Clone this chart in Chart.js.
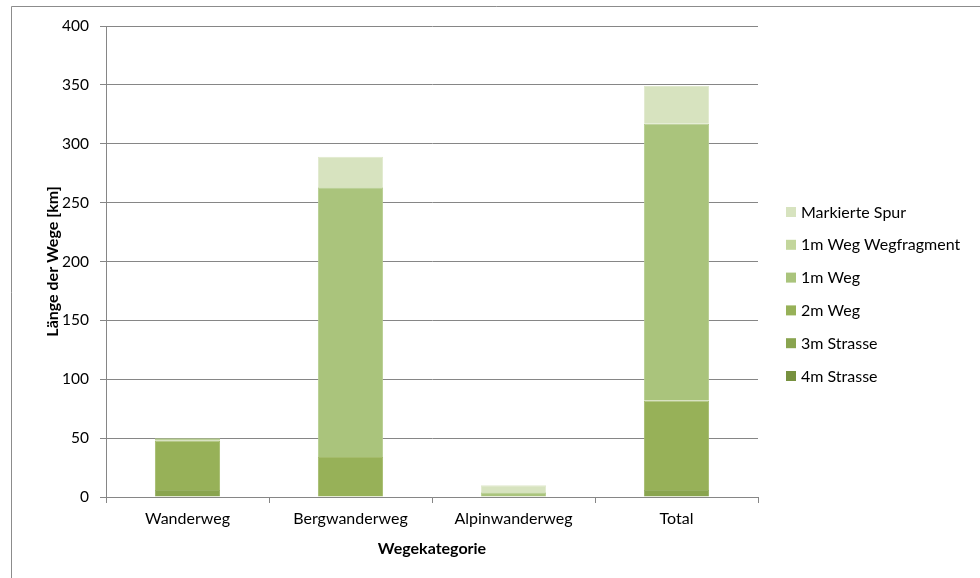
<!DOCTYPE html>
<html>
<head>
<meta charset="utf-8">
<script src="https://cdn.jsdelivr.net/npm/chart.js@4/dist/chart.umd.min.js"></script>
<style>
  html, body { margin: 0; padding: 0; background: #fff; }
  #wrap { width: 980px; height: 578px; }
</style>
</head>
<body>
<div id="wrap"><canvas id="c" width="980" height="578"></canvas></div>
<script>
// Wegekategorien und Längen je Wegtyp (km)
const categories = ['Wanderweg', 'Bergwanderweg', 'Alpinwanderweg', 'Total'];
const strasse4m  = [0, 0, 0, 0];
const strasse3m  = [6, 0, 0, 6];
const weg2m      = [42, 34, 0, 76];
const weg1m      = [2, 229, 4, 235];
const wegfragm1m = [0, 0, 0, 0];
const markSpur   = [0, 26, 6, 32];
const yTicks     = [0, 50, 100, 150, 200, 250, 300, 350, 400];

const FONT = 'Lato, "Open Sans", sans-serif';
const GRID = '#868686';

const series = [
  { label: '4m Strasse',           data: strasse4m,  color: '#77913f', edge: '#869e53' },
  { label: '3m Strasse',           data: strasse3m,  color: '#89a44f', edge: '#97b062' },
  { label: '2m Weg',               data: weg2m,      color: '#97b158', edge: '#a5bc6c' },
  { label: '1m Weg',               data: weg1m,      color: '#aac47c', edge: '#b6cd8e' },
  { label: '1m Weg Wegfragment',   data: wegfragm1m, color: '#c3d69c', edge: '#cddeaa' },
  { label: 'Markierte Spur',       data: markSpur,   color: '#d7e3bf', edge: '#e0e9cc' }
];

const datasets = series.map(s => ({
  label: s.label,
  data: s.data,
  backgroundColor: s.color,
  borderColor: s.edge,
  borderWidth: ctx => (ctx.raw ? 1 : 0),
  borderSkipped: 'start',
  categoryPercentage: 1,
  barPercentage: 0.4
}));

// Rahmen links/oben und Legende rechts
const frameAndLegend = {
  id: 'frameAndLegend',
  beforeDraw(chart) {
    const c = chart.ctx;
    c.save();
    c.strokeStyle = '#8c8c8c';
    c.lineWidth = 1;
    c.beginPath();
    c.moveTo(11.5, 600);
    c.lineTo(11.5, 6.5);
    c.lineTo(1000, 6.5);
    c.stroke();
    c.restore();
  },
  afterDraw(chart) {
    const c = chart.ctx;
    const ds = chart.data.datasets.slice().reverse();
    c.save();
    c.font = '16px ' + FONT;
    c.textBaseline = 'middle';
    c.textAlign = 'left';
    ds.forEach((d, i) => {
      const y = 212 + i * 32.8;
      c.fillStyle = d.backgroundColor;
      c.fillRect(786, y - 5, 10, 10);
      c.fillStyle = '#000';
      c.fillText(d.label, 801, y + 0.5);
    });
    c.restore();
  }
};

new Chart(document.getElementById('c'), {
  type: 'bar',
  data: { labels: categories, datasets },
  plugins: [frameAndLegend],
  options: {
    responsive: false,
    animation: false,
    devicePixelRatio: 1,
    layout: { padding: { top: 26, right: 222, left: 0, bottom: 0 } },
    plugins: { legend: { display: false }, tooltip: { enabled: false } },
    scales: {
      x: {
        stacked: true,
        offset: true,
        afterFit(scale) { scale.height = 81; },
        grid: {
          offset: true,
          drawOnChartArea: false,
          drawTicks: true,
          tickLength: 6,
          color: GRID
        },
        border: { color: GRID, width: 1 },
        ticks: { color: '#000', font: { family: FONT, size: 16 }, padding: 6, maxRotation: 0 },
        title: {
          display: true,
          text: 'Wegekategorie',
          color: '#000',
          font: { family: FONT, size: 16, weight: 'bold' },
          padding: { top: 0, bottom: 20 }
        }
      },
      y: {
        stacked: true,
        min: 0,
        max: 400,
        afterFit(scale) { scale.width = 106; },
        afterBuildTicks(scale) { scale.ticks = yTicks.map(v => ({ value: v })); },
        grid: { color: GRID, tickLength: 6, drawTicks: true },
        border: { color: GRID, width: 1 },
        ticks: { color: '#000', font: { family: FONT, size: 15.5 }, padding: 11 },
        title: {
          display: true,
          text: 'Länge der Wege [km]',
          color: '#000',
          font: { family: FONT, size: 16, weight: 'bold' },
          padding: { top: 43, bottom: 0 }
        }
      }
    }
  }
});
</script>
</body>
</html>
